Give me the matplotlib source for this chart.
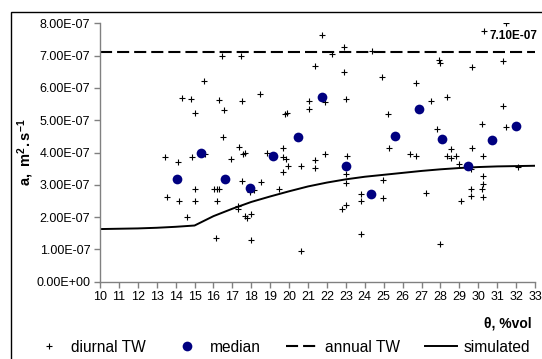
import matplotlib
matplotlib.use("Agg")
import matplotlib.pyplot as plt
from matplotlib.lines import Line2D
from matplotlib.patches import Rectangle
import numpy as np

# =========================
# Data
# =========================

diurnal_theta = [
    13.44, 13.52, 14.14, 14.18, 14.36, 14.59, 14.81, 14.88, 15.03, 15.03,
    15.03, 15.52, 15.56, 16.05, 16.12, 16.17, 16.17, 16.30, 16.30, 16.44,
    16.49, 16.58, 16.93, 17.29, 17.29, 17.35, 17.46, 17.49, 17.49, 17.58,
    17.68, 17.69, 17.76, 17.94, 17.97, 17.97, 18.15, 18.45, 18.50, 18.82,
    19.45, 19.70, 19.70, 19.70, 19.79, 19.84, 19.91, 19.93, 20.61, 20.61,
    21.07, 21.07, 21.35, 21.35, 21.35, 21.75, 21.88, 21.90, 22.25, 22.80,
    22.89, 22.89, 23.01, 23.01, 23.01, 23.03, 23.05, 23.79, 23.79, 23.79,
    24.37, 24.90, 24.95, 24.95, 25.24, 25.29, 26.38, 26.70, 26.70, 27.23,
    27.48, 27.80, 27.94, 27.98, 27.99, 28.33, 28.34, 28.57, 28.57, 28.80,
    28.96, 29.10, 29.63, 29.63, 29.63, 29.67, 29.67, 30.19, 30.19, 30.24,
    30.24, 30.24, 30.24, 30.28, 31.30, 31.30, 31.46, 31.46, 32.09,
]
diurnal_a = [
    3.87, 2.63, 3.72, 2.50, 5.69, 2.01, 5.65, 3.87, 5.21, 2.86,
    2.50, 6.22, 3.95, 2.86, 1.34, 2.86, 2.50, 2.86, 5.63, 6.99,
    4.47, 5.32, 3.80, 2.34, 2.24, 4.16, 6.99, 5.60, 3.12, 3.95,
    3.97, 2.03, 1.98, 2.77, 2.09, 1.30, 2.83, 5.82, 3.08, 3.97,
    2.86, 4.15, 3.86, 3.41, 5.18, 3.80, 5.23, 3.59, 3.59, 0.96,
    5.59, 5.35, 6.67, 3.78, 3.53, 7.63, 3.96, 5.57, 7.04, 2.24,
    7.26, 6.48, 3.32, 3.06, 2.37, 5.66, 3.88, 2.72, 2.51, 1.47,
    7.15, 6.33, 3.16, 2.58, 5.18, 4.15, 3.96, 6.14, 3.88, 2.74,
    5.59, 4.72, 6.86, 6.78, 1.16, 5.71, 3.88, 4.12, 3.82, 3.88,
    3.66, 2.50, 3.49, 2.86, 2.65, 6.66, 4.14, 4.87, 2.86, 3.88,
    3.27, 3.02, 2.63, 7.77, 6.83, 5.44, 8.00, 4.80, 3.54,
]

median_theta = [14.05, 15.35, 16.60, 17.94, 19.17, 20.46, 21.73, 23.00,
                24.32, 25.60, 26.84, 28.10, 29.45, 30.72, 31.99]
median_a = [3.18, 3.97, 3.18, 2.91, 3.90, 4.48, 5.73, 3.59,
            2.72, 4.51, 5.36, 4.43, 3.59, 4.38, 4.83]

sim_theta = list(range(10, 34))
sim_a = [1.63, 1.64, 1.65, 1.67, 1.70, 1.74, 2.03, 2.26, 2.47, 2.64, 2.80, 2.95,
         3.07, 3.17, 3.25, 3.31, 3.37, 3.43, 3.48, 3.52, 3.55, 3.57, 3.58, 3.59]

annual_a = 7.10e-7
SCALE = 1e-7

# =========================
# Figure
# =========================

plt.rcParams["font.family"] = ["Liberation Sans", "DejaVu Sans"]
plt.rcParams["mathtext.fontset"] = "custom"
plt.rcParams["mathtext.rm"] = "Liberation Sans"
plt.rcParams["mathtext.bf"] = "Liberation Sans:bold"

fig = plt.figure(figsize=(5.42, 3.59), dpi=100)
ax = fig.add_axes([0.1845, 0.2153, 0.8026, 0.7197])

ax.plot(diurnal_theta, np.array(diurnal_a) * SCALE, "+", color="black",
        markersize=5, markeredgewidth=0.8, label="diurnal TW", zorder=3)
ax.plot(median_theta, np.array(median_a) * SCALE, "o", color="#000080",
        markersize=7, markeredgewidth=0, label="median", zorder=4)
ax.axhline(annual_a, color="black", linewidth=1.5, dashes=(5.8, 2.4),
           label="annual TW", zorder=2)
ax.plot(sim_theta, np.array(sim_a) * SCALE, "-", color="black",
        linewidth=1.4, label="simulated", zorder=2)

# value label of the annual line
ax.text(30.62, annual_a + 0.5e-7, f"{annual_a:.2E}", fontsize=8.5,
        fontweight="bold", ha="left", va="center", clip_on=False)

ax.set_xlim(10, 33)
ax.set_ylim(0, 8e-7)
ax.set_xticks(range(10, 34))
ax.set_yticks(np.arange(0, 9) * SCALE)
ax.set_yticklabels([f"{v * SCALE:.2E}" for v in range(0, 9)])

for side in ["top", "right"]:
    ax.spines[side].set_visible(False)
for side in ["left", "bottom"]:
    ax.spines[side].set_color("#808080")
    ax.spines[side].set_linewidth(1.0)
ax.tick_params(direction="out", length=4, width=1, color="#808080",
               labelsize=9, labelcolor="black", pad=3)

ax.set_ylabel(r"$\mathbf{a,\ m^2.s^{-1}}$", fontsize=10.5)
ax.yaxis.set_label_coords(-0.147, 0.5)
fig.text(0.981, 0.098, "θ, %vol", fontsize=10, fontweight="bold",
         ha="right", va="center")

handles = [
    Line2D([], [], linestyle="none", marker="+", color="black",
           markersize=5, markeredgewidth=0.8),
    Line2D([], [], linestyle="none", marker="o", color="#000080",
           markersize=7, markeredgewidth=0),
    Line2D([], [], color="black", linewidth=1.5, dashes=(5.8, 2.4)),
    Line2D([], [], color="black", linewidth=1.4),
]
fig.legend(handles, ["diurnal TW", "median", "annual TW", "simulated"],
           loc="center", bbox_to_anchor=(0.519, 0.033), ncol=4,
           frameon=False, fontsize=11.2, handlelength=2.1, handletextpad=0.4,
           columnspacing=1.6, borderaxespad=0, borderpad=0)

# chart area border
fig.patches.append(Rectangle((11 / 542, -0.05), 1.2, (359 - 12) / 359 + 0.05,
                             transform=fig.transFigure, fill=False,
                             edgecolor="black", linewidth=1.0))

fig.savefig("out.png", dpi=100)
